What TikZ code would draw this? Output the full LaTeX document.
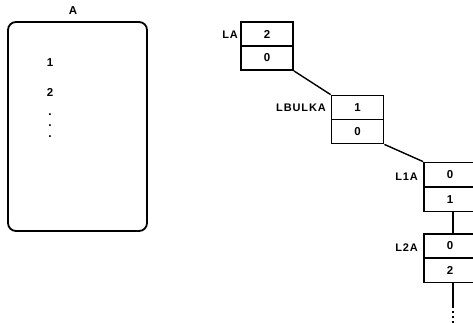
\documentclass[tikz,border=0pt]{standalone}
\usepackage{fontspec}
\setmainfont{Liberation Sans}
\begin{document}
\begin{tikzpicture}[x=1pt,y=-1pt,
  lw/.style={line width=1.8pt},
  cell/.style={draw,lw,minimum width=52pt,minimum height=24pt,inner sep=0pt,font=\fontsize{11.5}{13}\selectfont\bfseries},
  lbl/.style={inner sep=0pt,font=\fontsize{11}{13}\selectfont\bfseries\addfontfeature{LetterSpace=8}},
  txt/.style={inner sep=0pt,font=\fontsize{11.5}{13}\selectfont\bfseries},
  dotx/.style={inner sep=0pt,font=\fontsize{12}{13}\selectfont\bfseries},
  link/.style={line width=1.4pt}]
\useasboundingbox (0,0) rectangle (473,322);
% array A
\node[draw,lw,rounded corners=8pt,minimum width=139pt,minimum height=209pt,inner sep=0pt] (A) at (77.5,126.5) {};
\node[txt] (Alab) at (73,11) {A};
\node[txt] (a1) at (50,63) {1};
\node[txt] (a2) at (50,92) {2};
\node[dotx] (ad1) at (50,115) {.};
\node[dotx] (ad2) at (50,126) {.};
\node[dotx] (ad3) at (50,137) {.};
% LA
\node[cell] (la1) at (267,34) {2};
\node[cell] (la2) at (267,58) {0};
\node[lbl,anchor=east] (lal) at (238,35) {LA};
% LBULKA
\node[cell] (lb1) at (357.5,107.5) {1};
\node[cell] (lb2) at (357.5,131.5) {0};
\node[lbl,anchor=east] (lbl) at (326,108) {LBULKA};
% L1A
\node[cell] (l11) at (450,174.5) {0};
\node[cell] (l12) at (450,199.5) {1};
\node[lbl,anchor=east] (l1l) at (418,177) {L1A};
% L2A
\node[cell] (l21) at (450,246) {0};
\node[cell] (l22) at (450,270.5) {2};
\node[lbl,anchor=east] (l2l) at (418,248) {L2A};
% connectors
\draw[link] (la2.south east) -- (lb1.north west);
\draw[link] (lb2.south east) -- (l11.north west);
\coordinate (v1) at (453,0);
\draw[link] (l12.south -| v1) -- (l21.north -| v1);
\coordinate (e1) at (453,306);
\coordinate (e2) at (453,323);
\draw[link] (l22.south -| v1) -- (e1);
\draw[link,dash pattern=on 1.5pt off 3.5pt] (e1) -- (e2);
\end{tikzpicture}
\end{document}
